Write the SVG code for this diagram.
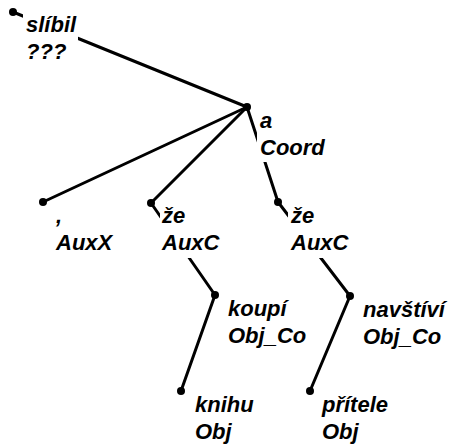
<svg xmlns="http://www.w3.org/2000/svg" width="449" height="448" viewBox="0 0 449 448">
<style>
.e{stroke:#000;stroke-width:3;stroke-linecap:round;fill:none}
.d{fill:#000}
.bg{fill:#fff}
text{font-family:"Liberation Sans",Arial,sans-serif;font-size:22px;font-weight:bold;font-style:italic;fill:#000}
</style>
<rect width="449" height="448" fill="#fff"/>
<g id="connectors">
<line class="e" x1="13" y1="12" x2="247" y2="107"/>
<line class="e" x1="247" y1="107" x2="43" y2="202"/>
<line class="e" x1="247" y1="107" x2="151" y2="203"/>
<line class="e" x1="247" y1="107" x2="278" y2="202"/>
<line class="e" x1="151" y1="203" x2="215" y2="295"/>
<line class="e" x1="215" y1="295" x2="181" y2="391"/>
<line class="e" x1="278" y1="202" x2="350" y2="296"/>
<line class="e" x1="350" y1="296" x2="310" y2="391"/>
</g>
<g id="n-slibil"><rect class="bg" x="23" y="14" width="55" height="53"/><circle class="d" cx="13" cy="12" r="4"/><text x="26" y="32">slíbil</text><text x="26" y="59">???</text></g>
<g id="n-a"><rect class="bg" x="257" y="110" width="72" height="52"/><circle class="d" cx="247" cy="107" r="4"/><text x="260" y="128">a</text><text x="260" y="155">Coord</text></g>
<g id="n-comma"><rect class="bg" x="53" y="205" width="60" height="53"/><circle class="d" cx="43" cy="202" r="4"/><text x="56" y="223">,</text><text x="56" y="250">AuxX</text></g>
<g id="n-ze1"><rect class="bg" x="160" y="205" width="60" height="53"/><circle class="d" cx="151" cy="203" r="4"/><text x="162" y="223">že</text><text x="162" y="250">AuxC</text></g>
<g id="n-ze2"><rect class="bg" x="288" y="205" width="60" height="53"/><circle class="d" cx="278" cy="202" r="4"/><text x="291" y="223">že</text><text x="291" y="250">AuxC</text></g>
<g id="n-koupi"><rect class="bg" x="225" y="298" width="82" height="53"/><circle class="d" cx="215" cy="295" r="4"/><text x="228" y="316">koupí</text><text x="228" y="343">Obj_Co</text></g>
<g id="n-navstivi"><rect class="bg" x="360" y="299" width="89" height="53"/><circle class="d" cx="350" cy="296" r="4"/><text x="363" y="317">navštíví</text><text x="363" y="344">Obj_Co</text></g>
<g id="n-knihu"><rect class="bg" x="191" y="394" width="64" height="53"/><circle class="d" cx="181" cy="391" r="4"/><text x="195" y="412">knihu</text><text x="195" y="439">Obj</text></g>
<g id="n-pritele"><rect class="bg" x="319" y="394" width="70" height="53"/><circle class="d" cx="310" cy="391" r="4"/><text x="322" y="412">přítele</text><text x="322" y="439">Obj</text></g>
</svg>
